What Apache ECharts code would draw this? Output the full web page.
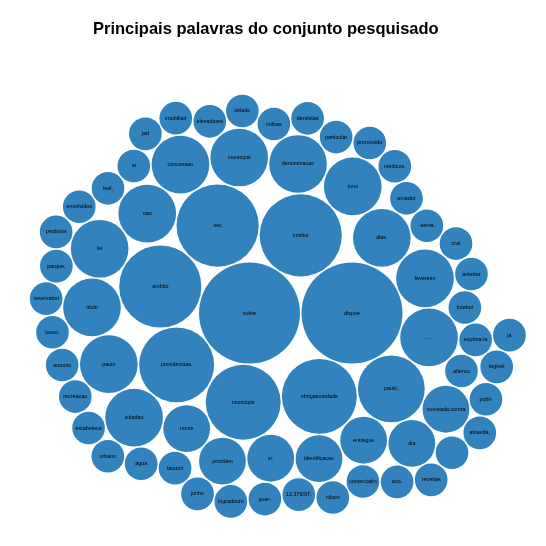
<!DOCTYPE html>
<html>
<head>
<meta charset="utf-8">
<script src="https://cdn.jsdelivr.net/npm/echarts@6/dist/echarts.min.js"></script>
<style>
html,body{margin:0;padding:0;background:#fff;}
#chart{width:546px;height:546px;}
</style>
</head>
<body>
<div id="chart"></div>
<script>
// Words in data order (sorted by frequency, ties in original order)
const words = [
  'sobre','dispoe','institui','sec','ambito',
  'providencias.','municipio','obrigatoriedade','paulo,',
  '......','fevereiro','dias.','tono','denominacao','municipal','concessao','nao','lei','titulo','paulo','cidadao',
  'nome','providen','sr.','identificacao','entregue','dia','nomeada.contra',
  'alterou','explora-la','futebol','anterior','civil','-sema.','amador','medicos.','promovido','particular',
  'dentistas','milhas','celado','elevadores','imobiliari','jad','ai','leal,','envolvidos','produtos',
  'parque,','reservatori','louvo,','antonio','recreacao','estabelece','urbano','agua','fatotori','junho',
  'logradouro','guar-','12.376/97,','nilson','comercialm','ano.','receitas','.','almeida,','publi-',
  'legivel','ja'
];
// Occurrence counts
const counts = [
  9,9,6,6,6,
  5,5,5,4,
  3,3,3,3,3,3,3,3,3,3,3,3,
  2,2,2,2,2,2,2,
  1,1,1,1,1,1,1,1,1,1,
  1,1,1,1,1,1,1,1,1,1,
  1,1,1,1,1,1,1,1,1,1,
  1,1,1,1,1,1,1,1,1,1,
  1,1
];
const titleText = 'Principais palavras do conjunto pesquisado';

// --- circle packing (front-chain sibling packing) ---
const K = 17.08, PAD = 1.5;
function place(a, b, c) {
  let db = a.r + c.r, dx = b.x - a.x, dy = b.y - a.y;
  if (db && (dx || dy)) {
    let da = b.r + c.r, dc = dx * dx + dy * dy;
    da *= da; db *= db;
    const x = 0.5 + (db - da) / (2 * dc);
    const t = db - dc;
    const y = Math.sqrt(Math.max(0, 2 * da * (db + dc) - t * t - da * da)) / (2 * dc);
    c.x = a.x + x * dx + y * dy;
    c.y = a.y + x * dy - y * dx;
  } else { c.x = a.x + db; c.y = a.y; }
}
function intersects(a, b) {
  const dx = b.x - a.x, dy = b.y - a.y, dr = a.r + b.r;
  return 0.999 * dr * dr > dx * dx + dy * dy;
}
function insert(a, b) { const c = a._next; a._next = b; b._prev = a; b._next = c; c._prev = b; }
function splice(a, b) { a._next = b; b._prev = a; }
function pack(nodes) {
  nodes.forEach(n => { n._next = n._prev = n; });
  let xMin = Infinity, xMax = -Infinity, yMin = Infinity, yMax = -Infinity;
  function bound(n) {
    xMin = Math.min(n.x - n.r, xMin); xMax = Math.max(n.x + n.r, xMax);
    yMin = Math.min(n.y - n.r, yMin); yMax = Math.max(n.y + n.r, yMax);
  }
  const n = nodes.length;
  let a = nodes[0]; a.x = -a.r; a.y = 0; bound(a);
  let b = nodes[1]; b.x = b.r; b.y = 0; bound(b);
  let c = nodes[2]; place(a, b, c); bound(c);
  insert(a, c); a._prev = c; insert(c, b); b = a._next;
  for (let i = 3; i < n; i++) {
    c = nodes[i]; place(a, b, c);
    let isect = 0, s1 = 1, s2 = 1, j, k;
    for (j = b._next; j !== b; j = j._next, s1++) {
      if (intersects(j, c)) { isect = 1; break; }
    }
    if (isect) {
      for (k = a._prev; k !== j._prev; k = k._prev, s2++) {
        if (intersects(k, c)) break;
      }
      if (s1 < s2 || (s1 === s2 && b.r < a.r)) { b = j; splice(a, b); }
      else { a = k; splice(a, b); }
      i--;
    } else {
      insert(a, c); b = c; bound(c);
    }
  }
  return { cx: (xMin + xMax) / 2, cy: (yMin + yMax) / 2 };
}
const nodes = words.map((w, i) => ({ name: w, v: counts[i], r: K * Math.sqrt(counts[i]) }));
const ctr = pack(nodes);
const CX = 277.8, CY = 306.2;
const data = nodes.map(nd => ({
  name: nd.name,
  value: [nd.x - ctr.cx + CX, nd.y - ctr.cy + CY, nd.r - PAD / 2]
}));

const chart = echarts.init(document.getElementById('chart'), null, { renderer: 'canvas' });
chart.setOption({
  animation: false,
  backgroundColor: '#fff',
  title: {
    text: titleText,
    left: 93, top: 21, padding: 0,
    textStyle: { fontFamily: 'Arial, "Liberation Sans", sans-serif', fontSize: 16.5, fontWeight: 'bold', color: '#000' }
  },
  grid: { left: 0, top: 0, width: 546, height: 546 },
  xAxis: { type: 'value', min: 0, max: 546, show: false },
  yAxis: { type: 'value', min: 0, max: 546, inverse: true, show: false },
  series: [{
    type: 'scatter',
    symbol: 'circle',
    symbolSize: v => v[2] * 2,
    itemStyle: { color: '#3182bd', opacity: 1 },
    emphasis: { disabled: true },
    label: {
      show: true, position: 'inside', formatter: '{b}',
      fontFamily: 'Arial, "Liberation Sans", sans-serif', fontSize: 5.4, color: '#000'
    },
    data: data
  }]
});
</script>
</body>
</html>
